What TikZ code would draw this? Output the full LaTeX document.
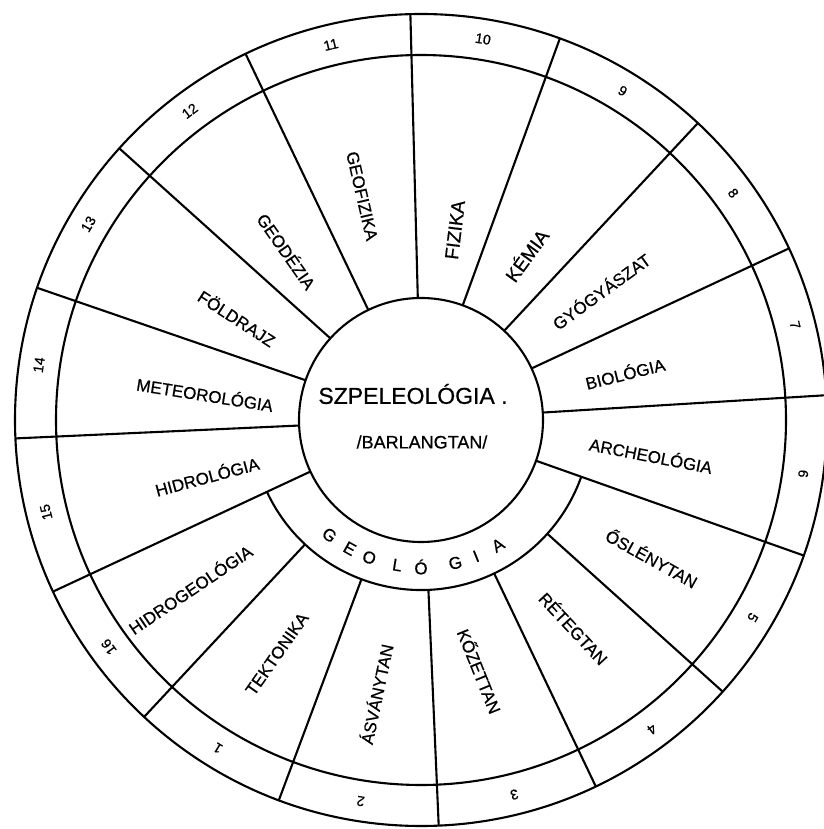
\documentclass[tikz,border=0pt]{standalone}
\usepackage{fontspec}
\setmainfont{Liberation Sans}
\newfontfamily\handfont[FakeBold=0.6]{Liberation Sans}
\begin{document}
\begin{tikzpicture}[x=1pt,y=1pt,
  ring/.style={line width=2.1pt},
  topic/.style={font=\handfont\fontsize{17}{17}\selectfont, inner sep=0pt},
  num/.style={font=\handfont\fontsize{14}{14}\selectfont, inner sep=0pt},
  geo/.style={font=\handfont\fontsize{17}{17}\selectfont, inner sep=0pt}]
\useasboundingbox (-421,-409) rectangle (402,420);
\fill[white] (-421,-409) rectangle (402,420);
\coordinate (O) at (0,0);
\draw[ring] (O) circle[radius=406];
\draw[ring] (O) circle[radius=365];
\draw[ring] (O) circle[radius=122];
\draw[ring] (205:170) arc[start angle=205, end angle=340.5, radius=170];
% spokes
\foreach \a/\r [count=\i] in {91.5/122,70/122,47/122,25/122,3.5/122,-19.5/122,-42/170,-64.5/170,-87.5/170,-110.5/170,-133/170,-155/122,182.6/122,161/122,138/122,115.6/122}{
  \coordinate (s\i a) at (\a:\r);
  \coordinate (s\i b) at (\a:406);
  \draw[ring] (s\i a) -- (s\i b);
}
% numbers
\foreach \n/\a in {10/80.75, 9/58.5, 8/36, 7/14.25, 6/-8, 5/-30.75, 4/-53.25, 3/-76, 2/-99, 1/-121.75, 16/-144, 15/-166.2, 14/171.8, 13/149.5, 12/126.8, 11/103.5}
  \node[num, rotate=\a-90] (n\n) at (\a:386) {\n};
% topics
\node[topic, rotate=-77] (t1) at (-59,224) {GEOFIZIKA};
\node[topic, rotate=-55] (t2) at (-134,169) {GEODÉZIA};
\node[topic, rotate=-33] (t3) at (-184,102) {FÖLDRAJZ};
\node[topic, rotate=-9] (t4) at (-216,26) {METEOROLÓGIA};
\node[topic, rotate=15] (t5) at (-214,-56) {HIDROLÓGIA};
\node[topic, rotate=34] (t6) at (-231,-169) {HIDROGEOLÓGIA};
\node[topic, rotate=55] (t7) at (-144,-234) {TEKTONIKA};
\node[topic, rotate=78] (t8) at (-45,-274) {ÁSVÁNYTAN};
\node[topic, rotate=-68] (t9) at (59,-251) {KŐZETTAN};
\node[topic, rotate=-47] (t10) at (153,-208) {RÉTEGTAN};
\node[topic, rotate=-29] (t11) at (231,-138) {ŐSLÉNYTAN};
\node[topic, rotate=-11] (t12) at (230,-35) {ARCHEOLÓGIA};
\node[topic, rotate=14] (t13) at (204,47) {BIOLÓGIA};
\node[topic, rotate=36] (t14) at (180,129) {GYÓGYÁSZAT};
\node[topic, rotate=54, font=\handfont\fontsize{19}{19}\selectfont] (t15) at (105,165) {KÉMIA};
\node[topic, rotate=83, font=\handfont\fontsize{19}{19}\selectfont] (t16) at (34,190) {FIZIKA};
% geologia ring
\foreach \l/\a [count=\i] in {G/231.5, E/241, O/249.4, L/260.7, Ó/270, G/283.5, I/292, A/301.6}
  \node[geo, rotate=\a+90] (g\i) at (\a:147) {\l};
% centre
\node[font=\handfont\fontsize{23}{23}\selectfont, inner sep=0pt] (sz) at (-8,26) {SZPELEOLÓGIA .};
\node[font=\handfont\fontsize{18}{18}\selectfont, inner sep=0pt] (bt) at (1,-22) {/BARLANGTAN/};
\end{tikzpicture}
\end{document}
